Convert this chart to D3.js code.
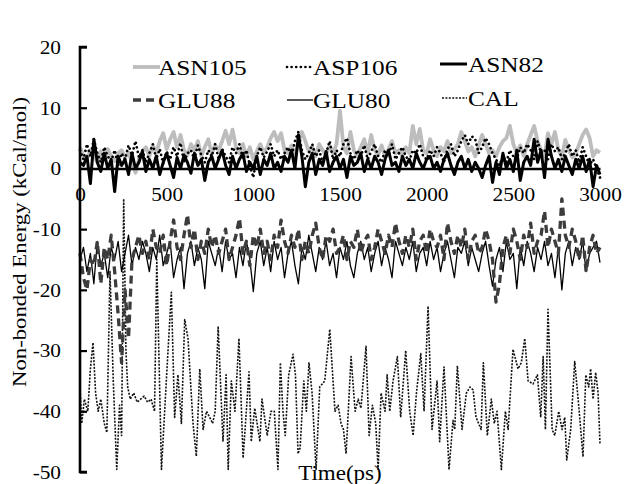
<!DOCTYPE html>
<html><head><meta charset="utf-8">
<script src="https://cdn.jsdelivr.net/npm/d3@7"></script>
<style>body{margin:0;background:#fff}svg{display:block}</style>
</head><body><svg id="c" width="628" height="484"></svg>
<script>
// ---- data ----
const timeStep = 20; // ps, grid of the five upper series
const asn105 = [3.5,2.0,1.5,3.0,2.2,1.0,2.8,1.5,3.2,2.0,1.2,2.5,3.0,1.8,2.6,1.0,-0.7,1.5,2.8,3.5,
 2.0,3.8,2.5,4.5,5.8,3.2,4.8,6.0,3.5,5.5,3.0,2.2,4.0,3.0,4.5,2.0,3.5,4.8,2.5,3.8,
 3.0,4.5,6.2,4.0,6.4,3.5,2.5,4.0,2.0,3.5,1.5,2.8,4.0,2.5,3.5,5.0,6.0,4.5,5.8,3.0,
 2.5,3.8,2.0,4.2,6.0,4.5,2.8,3.5,2.0,4.0,3.0,2.2,3.8,2.5,4.0,9.5,3.5,2.5,6.0,3.0,
 2.0,3.5,4.8,2.5,5.5,3.0,2.2,3.8,2.0,3.2,4.5,2.5,3.0,2.0,3.5,2.5,7.0,4.0,6.5,3.0,
 2.5,4.8,3.0,2.0,3.5,2.8,4.5,2.5,3.2,4.0,6.0,4.5,2.8,3.5,2.0,3.8,5.5,4.0,2.5,3.0,
 2.0,3.5,4.5,5.0,7.0,4.0,2.5,3.8,2.0,4.0,5.5,7.0,4.5,3.0,2.0,5.8,4.0,6.0,3.0,2.0,
 4.7,3.0,1.8,2.5,4.0,5.5,6.4,5.0,2.0,3.0,2.6];
const asp106 = [3.0,1.5,4.0,2.0,4.8,2.5,1.0,3.5,2.0,1.2,3.0,0.5,2.5,1.5,3.8,2.2,4.5,1.8,3.0,1.0,
 2.5,4.0,1.5,3.2,0.8,2.8,1.5,3.5,2.0,4.2,1.0,2.5,3.0,1.5,3.8,2.2,1.0,3.0,2.0,4.0,
 1.5,3.2,2.0,1.0,3.5,2.5,4.0,1.5,3.0,0.5,-1.5,2.0,3.5,1.8,2.8,4.0,2.0,3.0,1.5,2.5,
 3.5,2.0,4.5,6.0,3.0,1.5,2.5,4.0,2.0,3.0,1.0,2.5,4.5,1.5,3.0,2.0,4.0,5.0,2.5,1.5,
 3.0,2.0,3.8,1.5,2.8,4.0,2.0,1.0,3.0,2.2,4.0,1.5,2.5,3.5,2.0,1.2,3.0,2.5,4.0,2.0,
 1.5,3.0,2.0,3.5,2.5,1.0,3.2,4.0,2.0,3.0,4.5,5.5,4.0,5.3,4.8,2.5,3.5,5.0,4.0,2.5,
 1.5,0.5,2.0,1.0,3.0,2.0,1.5,3.5,2.5,4.0,3.0,1.5,4.5,2.5,3.0,1.5,4.0,2.8,3.5,1.5,
 2.5,4.0,2.0,3.0,1.0,3.5,2.0,0.5,1.5,0.0,-1.5];
const asn82 = [1.0,0.5,2.0,-2.5,4.8,1.0,-0.5,2.5,0.0,1.5,-3.8,2.0,0.5,1.5,-1.0,2.5,0.0,1.0,2.8,-0.5,
 1.5,0.0,2.0,-1.0,1.0,2.5,0.5,-1.5,1.8,0.0,2.2,1.0,-0.8,2.5,0.5,1.5,-2.0,1.0,2.0,0.0,
 1.5,3.0,0.5,-1.0,2.0,0.0,1.5,2.5,-0.5,1.0,0.0,2.0,-1.0,1.5,0.5,2.5,0.0,1.0,-0.5,2.0,
 1.0,3.0,0.0,5.5,2.0,-3.0,1.0,2.5,-1.0,1.5,0.5,2.8,-0.5,1.0,2.0,0.0,1.5,-1.5,2.0,0.5,
 1.0,2.5,-0.5,1.5,0.0,2.0,1.0,-1.0,1.5,3.0,0.5,1.0,-0.5,2.0,0.5,1.5,0.0,2.5,1.0,0.0,
 1.5,2.0,0.0,1.0,-0.5,1.5,2.5,0.5,-1.0,1.0,2.0,0.0,1.5,-0.5,1.0,0.0,-1.5,0.5,2.0,-2.3,
 1.0,-1.0,2.5,0.0,1.5,-0.5,3.0,-2.0,1.0,2.0,0.5,4.8,1.0,3.0,-1.5,4.8,2.0,0.0,1.5,-0.5,
 2.0,0.5,-1.0,1.5,0.0,2.0,-0.5,1.5,-3.0,0.5,-1.0];
const glu88 = [-14,-18,-20,-15,-16,-12,-19,-13,-15,-11,-17,-24,-32,-20,-28,-15,-13,-11,-14,-12,
 -15,-10,-13,-14,-11,-16,-12,-8.5,-13,-15,-11,-7.6,-13,-10,-15,-12,-14,-10,-13,-11,
 -14,-12,-10,-15,-13,-11,-8.2,-14,-12,-16,-11,-13,-10,-14,-12,-15,-11,-13,-8.5,-12,
 -14,-11,-13,-10,-15,-12,-14,-11,-9,-13,-15,-11,-12,-10,-14,-13,-11,-15,-12,-13,
 -10,-14,-12,-11,-15,-13,-10,-12,-14,-11,-13,-9,-12,-14,-11,-13,-10,-15,-12,-11,
 -14,-10,-12,-13,-11,-15,-9,-12,-14,-11,-13,-10,-15,-12,-11,-14,-13,-10,-12,-15,
 -22,-19,-13,-11,-14,-10,-12,-15,-11,-13,-9,-14,-12,-11,-7,-13,-10,-12,-14,-5,
 -11,-13,-10,-12,-15,-11,-17,-13,-11,-14,-13];
const glu80 = [-15,-13,-17,-14,-19,-12,-16,-14,-18,-13,-15,-12,-17,-14,-11,-16,-13,-15,-12,-14,
 -17,-13,-15,-11,-16,-14,-12,-18,-15,-13,-19.8,-14,-12,-16,-13,-15,-19.8,-12,-14,-16,
 -13,-17,-12,-15,-14,-18,-13,-16,-12,-15,-20.3,-14,-12,-16,-13,-17,-12,-15,-13,-18,
 -14,-12,-16,-19,-13,-15,-11,-14,-17,-13,-15,-12,-16,-14,-18,-13,-15,-12,-16,-18,
 -14,-12,-15,-13,-17,-14,-12,-16,-13,-15,-18,-12,-14,-16,-13,-15,-12,-17,-14,-13,
 -16,-12,-15,-13,-17,-14,-12,-15,-18,-13,-14,-12,-16,-13,-15,-17,-14,-12,-16,-19.4,
 -15,-13,-17,-12,-15,-14,-19.8,-13,-16,-12,-14,-17,-13,-15,-12,-16,-14,-18,-13,-20,
 -14,-12,-16,-13,-15,-12,-17,-14,-13,-12,-15.5];
const calTime = [0,10,25,45,60,75,90,105,120,140,155,173,192,212,228,240,252,265,275,290,310,330,350,370,390,410,430,443,470,498,
 527,546,565,585,604,623,652,671,691,710,730,748,765,780,797,825,843,855,873,894,917,941,975,988,1008,1038,1050,1080,1102,1121,
 1142,1156,1171,1184,1204,1229,1243,1258,1270,1291,1306,1321,1339,1362,1383,1412,1441,1471,1489,1506,1520,1535,1564,1587,1605,1621,1650,1668,1687,1706,
 1720,1737,1760,1772,1787,1806,1831,1850,1879,1902,1922,1941,1966,1985,2008,2031,2060,2075,2100,2129,2152,2162,2177,2204,2229,2250,2268,2285,2314,2327,
 2350,2373,2390,2406,2431,2454,2470,2498,2527,2546,2566,2585,2614,2639,2658,2672,2685,2700,2724,2739,2762,2781,2797,2808,2831,2854,2877,2902,2918,2935,
 2946,2960,2975,2989,3000];
const calValues = [-36,-42,-38,-40,-33,-28.7,-37,-40,-38,-42,-43.5,-17,-35,-49.6,-39,-44,-5,-30,-36,-38,-37,-38.5,-38,-37.5,-38.5,-38,-40,-15,-49.6,-35,
 -20.4,-41,-34,-42,-24.9,-28,-42,-47.4,-33,-43,-40,-41,-42,-40,-26,-45,-34,-49.6,-35,-40,-28,-47.7,-33.5,-45,-39.5,-45,-38,-44,-40,-40,
 -49.6,-32,-40,-44,-34,-30.6,-34,-47,-46,-35,-40,-32,-37,-49.6,-36,-35,-26.5,-40,-39,-42,-43,-47,-31,-40,-38,-39.5,-29.3,-44,-39,-42,
 -49.6,-37,-40,-34,-40,-35,-31,-41,-30,-40,-44,-37,-30.5,-40,-22.7,-43,-35,-45,-32.7,-49.6,-41.5,-43,-32.5,-43,-37,-36,-36.5,-41,-43,-32,
 -44,-38,-42,-40,-49.6,-40,-43,-29.8,-33,-32,-28,-35,-35.5,-34,-41,-31,-43,-23.2,-43,-44,-40,-43,-41,-48,-43,-31.8,-39,-47.5,-34,-36,
 -33,-38,-33.6,-37,-45.5];
const xTicks = [0,500,1000,1500,2000,2500,3000];
const yTicks = [20,10,0,-10,-20,-30,-40,-50];
const legendLabels = ["ASN105","ASP106","ASN82","GLU88","GLU80","CAL"];

// ---- drawing ----
const FONT = "Liberation Serif";
const svg = d3.select("#c");
const x = d3.scaleLinear().domain([0,3000]).range([80,600]);
const y = d3.scaleLinear().domain([-50,20]).range([472,47]);
const STRETCH = 1.15;
function stretch(sel){ sel.each(function(){ const l=this.getComputedTextLength(); this.setAttribute("textLength", l*STRETCH); this.setAttribute("lengthAdjust","spacingAndGlyphs"); }); }

const styles = {
  ASN105:{stroke:"#bdbdbd", w:3.8, dash:null, cap:"butt"},
  ASP106:{stroke:"#000", w:2.7, dash:"0.01,4.6", cap:"round"},
  ASN82:{stroke:"#000", w:3.0, dash:null, cap:"butt"},
  GLU88:{stroke:"#3c3c3c", w:3.3, dash:"8,5", cap:"butt"},
  GLU80:{stroke:"#000", w:1.3, dash:null, cap:"butt"},
  CAL:{stroke:"#111", w:1.6, dash:"2,1.4", cap:"butt"}
};
function gridSeries(vals){ return vals.map((v,i)=>[i*timeStep, v]); }
const seriesData = {
  ASN105: gridSeries(asn105), ASP106: gridSeries(asp106), ASN82: gridSeries(asn82),
  GLU88: gridSeries(glu88), GLU80: gridSeries(glu80), CAL: calTime.map((t,i)=>[t, calValues[i]])
};
const line = d3.line().x(d=>x(d[0])).y(d=>y(d[1]));
const order = ["CAL","GLU80","GLU88","ASN105","ASP106","ASN82"];
order.forEach(k=>{
  const s=styles[k];
  svg.append("path").datum(seriesData[k]).attr("d",line).attr("fill","none")
    .attr("stroke",s.stroke).attr("stroke-width",s.w).attr("stroke-linejoin","round")
    .attr("stroke-linecap",s.cap).attr("stroke-dasharray",s.dash);
});

// y axis (ticks inward)
const yAxis = svg.append("g").attr("transform","translate(80,0)")
  .call(d3.axisRight(y).tickValues(yTicks).tickSize(7).tickFormat(d=>String(d)));
yAxis.attr("font-family",FONT).attr("font-size",18.5);
yAxis.select(".domain").attr("stroke","#000").attr("stroke-width",2.6).attr("d","M7,47H0V472H7");
yAxis.selectAll(".tick line").attr("stroke","#000").attr("stroke-width",2.2);
yAxis.selectAll(".tick text").attr("x",-19).attr("text-anchor","end").attr("dy","0.34em")
  .attr("fill","#000").call(stretch);

// x axis along y = 0
const xAxis = svg.append("g").attr("transform",`translate(0,${y(0)})`)
  .call(d3.axisBottom(x).tickValues(xTicks).tickSize(0).tickFormat(d=>String(d)));
xAxis.attr("font-family",FONT).attr("font-size",18.5);
xAxis.select(".domain").attr("stroke","#000").attr("stroke-width",2.4);
xAxis.selectAll(".tick text").attr("y",19).attr("dy","0.71em").attr("fill","#000").call(stretch);

// axis titles
svg.append("text").attr("transform","translate(26,242) rotate(-90)").attr("text-anchor","middle")
  .attr("font-family",FONT).attr("font-size",19.5).text("Non-bonded Energy (kCal/mol)")
  .attr("textLength",290).attr("lengthAdjust","spacingAndGlyphs");
svg.append("text").attr("x",340).attr("y",480).attr("text-anchor","middle")
  .attr("font-family",FONT).attr("font-size",20).text("Time(ps)").call(stretch);

// legend
const legPos = [[133,160,158,67],[287,312,313,67],[440,467,468,64],[133,157,158,100],[287,313,313,100],[442,467,468,98]];
legendLabels.forEach((k,i)=>{
  const [x1,x2,tx,ly]=legPos[i], s=styles[k];
  svg.append("line").attr("x1",x1).attr("x2",x2).attr("y1",ly).attr("y2",ly)
    .attr("stroke",s.stroke).attr("stroke-width",s.w).attr("stroke-dasharray",s.dash).attr("stroke-linecap",s.cap);
  svg.append("text").attr("x",tx).attr("y",ly+7.5).attr("font-family",FONT).attr("font-size",22)
    .text(k).call(stretch);
});
</script></body></html>
